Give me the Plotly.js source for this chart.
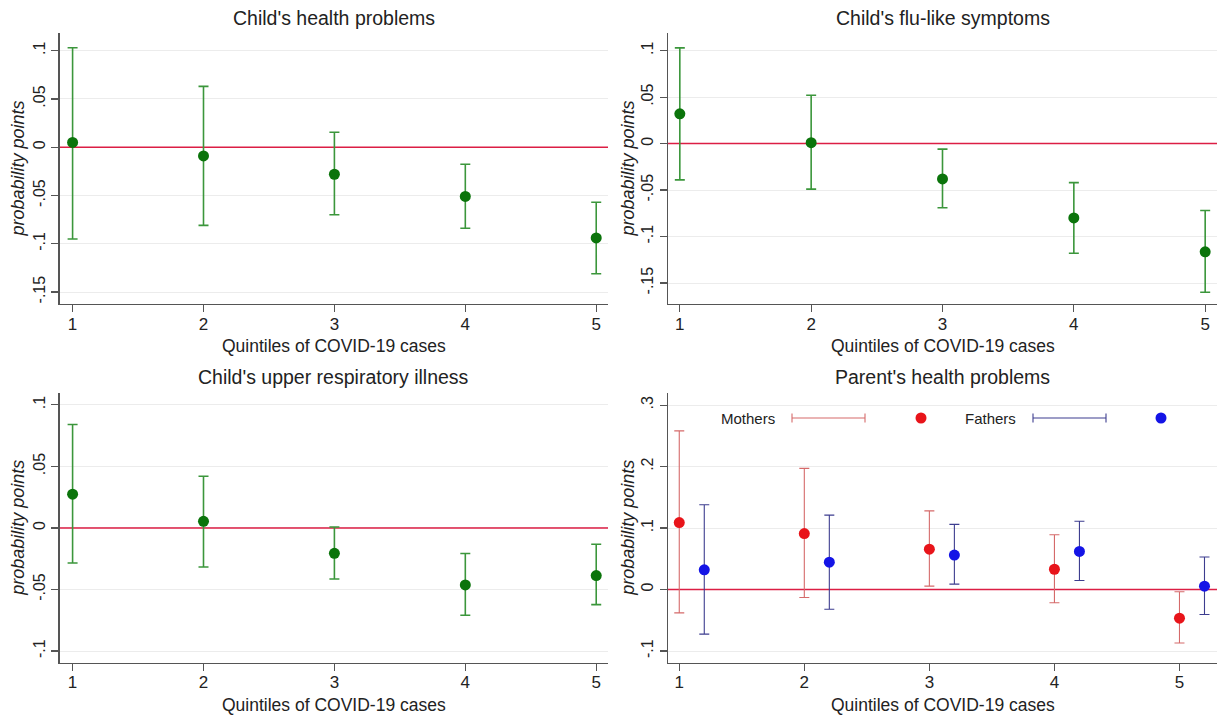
<!DOCTYPE html>
<html>
<head>
<meta charset="utf-8">
<script src="https://cdn.plot.ly/plotly-3.0.1.min.js"></script>
<style>html,body{margin:0;padding:0;background:#fff;}#chart{width:1224px;height:717px;}</style>
</head>
<body>
<div id="chart"></div>
<script>
// ---------- data ----------
const quintiles = [1, 2, 3, 4, 5];

const healthPoint = [0.005, -0.009, -0.028, -0.051, -0.094];
const healthUpper = [0.103, 0.063, 0.0155, -0.0176, -0.057];
const healthLower = [-0.095, -0.081, -0.070, -0.084, -0.131];

const fluPoint = [0.032, 0.001, -0.038, -0.080, -0.1165];
const fluUpper = [0.103, 0.052, -0.006, -0.042, -0.072];
const fluLower = [-0.039, -0.049, -0.069, -0.118, -0.160];

const respPoint = [0.0274, 0.0054, -0.0206, -0.0463, -0.0387];
const respUpper = [0.084, 0.042, 0.0008, -0.0208, -0.0133];
const respLower = [-0.0285, -0.0317, -0.0415, -0.071, -0.0623];

const motherPoint = [0.109, 0.091, 0.0657, 0.033, -0.0466];
const motherUpper = [0.258, 0.197, 0.128, 0.089, -0.0037];
const motherLower = [-0.038, -0.013, 0.0055, -0.0216, -0.087];

const fatherX = [1.2, 2.2, 3.2, 4.2, 5.2];
const fatherPoint = [0.032, 0.0445, 0.056, 0.062, 0.0055];
const fatherUpper = [0.138, 0.121, 0.106, 0.111, 0.053];
const fatherLower = [-0.0725, -0.032, 0.0088, 0.0146, -0.0407];

const referenceLevel = 0;   // horizontal reference line (no effect)

const childTickVals = [-0.15, -0.1, -0.05, 0, 0.05, 0.1];
const childTickText = ["-.15", "-.1", "-.05", "0", ".05", ".1"];
const respTickVals = [-0.1, -0.05, 0, 0.05, 0.1];
const respTickText = ["-.1", "-.05", "0", ".05", ".1"];
const parentTickVals = [-0.1, 0, 0.1, 0.2, 0.3];
const parentTickText = ["-.1", "0", ".1", ".2", ".3"];
const xTickText = ["1", "2", "3", "4", "5"];

const panelTitles = ["Child's health problems", "Child's flu-like symptoms",
                     "Child's upper respiratory illness", "Parent's health problems"];
const xTitle = "Quintiles of COVID-19 cases";
const yTitle = "probability points";
const legendLabels = ["Mothers", "Fathers"];

// ---------- styling ----------
const W = 1224, H = 717;
const px = p => p / W;
const py = p => 1 - p / H;
const FONT = "Liberation Sans, Arial, Helvetica, sans-serif";
const TXT = "#222222";
const GREEN_M = "#0b740b", GREEN_E = "#3b963b";
const RED_M = "#e8141a", RED_E = "#d56a6a";
const BLUE_M = "#1414e6", BLUE_E = "#3d3d8f";
const ZERO = "#dc1e44";

// axis ranges (view window)
const xRangeL = [0.9, 5.09], xRange2 = [0.91, 5.09], xRange4 = [0.91, 5.3];

function zeroTrace(xr, xa, ya) {
  return {type: "scatter", mode: "lines", x: xr, y: xr.map(() => referenceLevel), xaxis: xa, yaxis: ya,
    showlegend: false, hoverinfo: "skip", line: {color: ZERO, width: 1.5}, cliponaxis: true};
}

function errTrace(x, pt, up, lo, xa, ya, mc, ec, thick, name) {
  return {
    type: "scatter", mode: "markers", x: x, y: pt, xaxis: xa, yaxis: ya, name: name,
    showlegend: false, hoverinfo: "x+y",
    marker: {color: mc, size: 11},
    error_y: {type: "data", symmetric: false,
      array: pt.map((v, i) => up[i] - v),
      arrayminus: pt.map((v, i) => v - lo[i]),
      color: ec, thickness: thick, width: 5}
  };
}

const traces = [
  zeroTrace(xRangeL, "x", "y"),
  zeroTrace(xRange2, "x2", "y2"),
  zeroTrace(xRangeL, "x3", "y3"),
  zeroTrace(xRange4, "x4", "y4"),
  errTrace(quintiles, healthPoint, healthUpper, healthLower, "x", "y", GREEN_M, GREEN_E, 1.6, panelTitles[0]),
  errTrace(quintiles, fluPoint, fluUpper, fluLower, "x2", "y2", GREEN_M, GREEN_E, 1.6, panelTitles[1]),
  errTrace(quintiles, respPoint, respUpper, respLower, "x3", "y3", GREEN_M, GREEN_E, 1.6, panelTitles[2]),
  errTrace(quintiles, motherPoint, motherUpper, motherLower, "x4", "y4", RED_M, RED_E, 1.1, legendLabels[0]),
  errTrace(fatherX, fatherPoint, fatherUpper, fatherLower, "x4", "y4", BLUE_M, BLUE_E, 1.1, legendLabels[1])
];

const xL = [px(59.5), px(608)], xR = [px(668), px(1217)];
const yT = [py(304), py(33)], yB = [py(662.7), py(392.8)];

function xaxis(domain, anchor, range) {
  return {domain: domain, anchor: anchor, range: range, tickvals: quintiles, ticktext: xTickText,
    showgrid: false, zeroline: false, showline: true, linecolor: "#555", linewidth: 1.3,
    ticks: "outside", ticklen: 7, tickcolor: "#555", tickwidth: 1.2, ticklabelstandoff: -3,
    tickfont: {family: FONT, size: 17, color: TXT}, fixedrange: true};
}
function yaxis(domain, anchor, range, tv, tt) {
  return {domain: domain, anchor: anchor, range: range, tickvals: tv, ticktext: tt, tickangle: -90,
    showgrid: true, gridcolor: "#ececec", gridwidth: 1, zeroline: false,
    showline: true, linecolor: "#555", linewidth: 1.3,
    ticks: "outside", ticklen: 7, tickcolor: "#555", tickwidth: 1.2,
    tickfont: {family: FONT, size: 16, color: TXT}, fixedrange: true};
}

const annotations = [];
const titlePos = [[333.7, 18], [942.5, 18], [333.7, 377], [942.5, 377]];
panelTitles.forEach((t, i) => annotations.push({text: t, xref: "paper", yref: "paper",
  x: px(titlePos[i][0]), y: py(titlePos[i][1]), showarrow: false, xanchor: "center", yanchor: "middle",
  font: {family: FONT, size: 19.5, color: TXT}}));
const xtPos = [[333.7, 345.5], [942.5, 345.5], [333.7, 705], [942.5, 705]];
xtPos.forEach(p => annotations.push({text: xTitle, xref: "paper", yref: "paper",
  x: px(p[0]), y: py(p[1]), showarrow: false, xanchor: "center", yanchor: "middle",
  font: {family: FONT, size: 17.5, color: TXT}}));
const ytPos = [[18, 168.5], [628, 168.5], [18, 527.8], [628, 527.8]];
ytPos.forEach(p => annotations.push({text: "<i>" + yTitle + "</i>", xref: "paper", yref: "paper",
  x: px(p[0]), y: py(p[1]), showarrow: false, xanchor: "center", yanchor: "middle", textangle: -90,
  font: {family: FONT, size: 18, color: TXT}}));
// legend texts
annotations.push({text: legendLabels[0], xref: "paper", yref: "paper", x: px(748), y: py(418),
  showarrow: false, xanchor: "center", yanchor: "middle", font: {family: FONT, size: 15, color: TXT}});
annotations.push({text: legendLabels[1], xref: "paper", yref: "paper", x: px(990), y: py(418),
  showarrow: false, xanchor: "center", yanchor: "middle", font: {family: FONT, size: 15, color: TXT}});

const shapes = [];
// legend keys
function legendBar(x0, x1, y, c) {
  shapes.push({type: "line", xref: "paper", yref: "paper", x0: px(x0), x1: px(x1), y0: py(y), y1: py(y), line: {color: c, width: 1.1}});
  shapes.push({type: "line", xref: "paper", yref: "paper", x0: px(x0), x1: px(x0), y0: py(y - 4.5), y1: py(y + 4.5), line: {color: c, width: 1.1}});
  shapes.push({type: "line", xref: "paper", yref: "paper", x0: px(x1), x1: px(x1), y0: py(y - 4.5), y1: py(y + 4.5), line: {color: c, width: 1.1}});
}
function legendDot(cx, cy, c) {
  shapes.push({type: "circle", xref: "paper", yref: "paper", x0: px(cx - 5.5), x1: px(cx + 5.5),
    y0: py(cy + 5.5), y1: py(cy - 5.5), fillcolor: c, line: {color: c, width: 0}});
}
legendBar(792, 865, 418, RED_E);
legendDot(921, 418, RED_M);
legendBar(1033, 1106, 418, BLUE_E);
legendDot(1161, 418, BLUE_M);

const layout = {
  width: W, height: H, margin: {l: 0, r: 0, t: 0, b: 0},
  paper_bgcolor: "#ffffff", plot_bgcolor: "#ffffff", showlegend: false,
  font: {family: FONT, color: TXT},
  xaxis: xaxis(xL, "y", xRangeL),
  yaxis: yaxis(yT, "x", [-0.1624, 0.1183], childTickVals, childTickText),
  xaxis2: xaxis(xR, "y2", xRange2),
  yaxis2: yaxis(yT, "x2", [-0.1726, 0.119], childTickVals, childTickText),
  xaxis3: xaxis(xL, "y3", xRangeL),
  yaxis3: yaxis(yB, "x3", [-0.1095, 0.1098], respTickVals, respTickText),
  xaxis4: xaxis(xR, "y4", xRange4),
  yaxis4: yaxis(yB, "x4", [-0.119, 0.32], parentTickVals, parentTickText),
  annotations: annotations, shapes: shapes
};

Plotly.newPlot("chart", traces, layout, {displayModeBar: false, staticPlot: true});
</script>
</body>
</html>
